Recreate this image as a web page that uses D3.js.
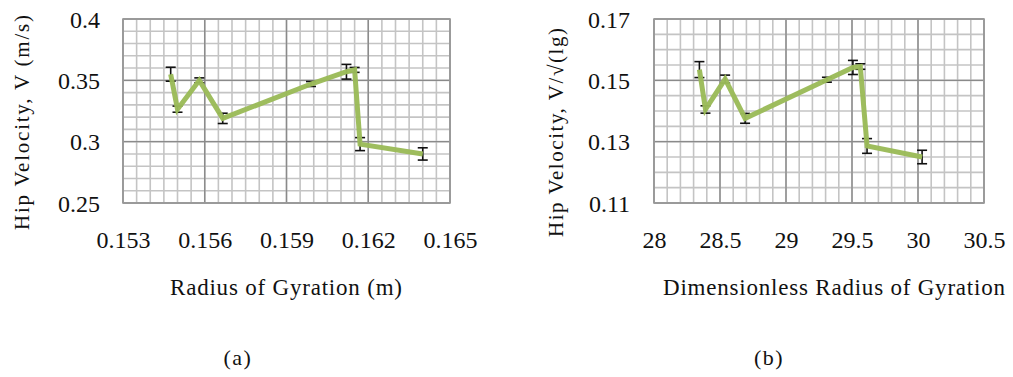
<!DOCTYPE html>
<html>
<head>
<meta charset="utf-8">
<script src="https://cdn.jsdelivr.net/npm/d3@7"></script>
<style>
  html, body { margin: 0; padding: 0; background: #fff; }
  svg { display: block; }
  text { font-family: "Liberation Serif", "Times New Roman", serif; fill: #111; }
</style>
</head>
<body>
<svg id="fig" width="1013" height="377"></svg>
<script>
// Panel (a): hip velocity against radius of gyration (m)
const radiusA   = [0.15475, 0.1550, 0.1558, 0.15666, 0.1599, 0.1612, 0.1615, 0.1617, 0.1640];
const velocityA = [0.355, 0.3265, 0.350, 0.319, 0.347, 0.357, 0.3585, 0.298, 0.290];
const errA      = [0.0057, 0.0025, 0.0020, 0.0042, 0.0020, 0.0060, 0.0020, 0.0053, 0.0050];
const xTicksA = [0.153, 0.156, 0.159, 0.162, 0.165];
const yTicksA = [0.25, 0.3, 0.35, 0.4];
const xLabelsA = ["0.153", "0.156", "0.159", "0.162", "0.165"];
const yLabelsA = ["0.25", "0.3", "0.35", "0.4"];

// Panel (b): normalised hip velocity against dimensionless radius of gyration
const radiusB   = [28.344, 28.39, 28.539, 28.69, 29.31, 29.507, 29.563, 29.614, 30.031];
const velocityB = [0.1535, 0.1405, 0.1504, 0.1376, 0.1502, 0.1542, 0.1545, 0.1286, 0.1250];
const errB      = [0.0026, 0.0012, 0.0013, 0.0016, 0.0008, 0.0023, 0.0009, 0.0024, 0.0022];
const xTicksB = [28, 28.5, 29, 29.5, 30, 30.5];
const yTicksB = [0.11, 0.13, 0.15, 0.17];
const xLabelsB = ["28", "28.5", "29", "29.5", "30", "30.5"];
const yLabelsB = ["0.11", "0.13", "0.15", "0.17"];

const svg = d3.select("#fig");

function panel(cfg) {
  const g = svg.append("g");
  const x = d3.scaleLinear().domain(cfg.xDomain).range([cfg.left, cfg.right]);
  const y = d3.scaleLinear().domain(cfg.yDomain).range([cfg.bottom, cfg.top]);

  // minor grid
  const xMinor = d3.range(cfg.xMinorCount + 1).map(i => cfg.xDomain[0] + i * (cfg.xDomain[1] - cfg.xDomain[0]) / cfg.xMinorCount);
  const yMinor = d3.range(cfg.yMinorCount + 1).map(i => cfg.yDomain[0] + i * (cfg.yDomain[1] - cfg.yDomain[0]) / cfg.yMinorCount);
  g.append("g").selectAll("line").data(xMinor).join("line")
    .attr("x1", d => x(d)).attr("x2", d => x(d))
    .attr("y1", cfg.top).attr("y2", cfg.bottom)
    .attr("stroke", "#c4c4c4").attr("stroke-width", 1.6);
  g.append("g").selectAll("line").data(yMinor).join("line")
    .attr("y1", d => y(d)).attr("y2", d => y(d))
    .attr("x1", cfg.left).attr("x2", cfg.right)
    .attr("stroke", "#c4c4c4").attr("stroke-width", 1.6);

  // major grid
  g.append("g").selectAll("line").data(cfg.xTicks).join("line")
    .attr("x1", d => x(d)).attr("x2", d => x(d))
    .attr("y1", cfg.top).attr("y2", cfg.bottom)
    .attr("stroke", "#8a8a8a").attr("stroke-width", 1.4);
  g.append("g").selectAll("line").data(cfg.yTicks).join("line")
    .attr("y1", d => y(d)).attr("y2", d => y(d))
    .attr("x1", cfg.left).attr("x2", cfg.right)
    .attr("stroke", "#8a8a8a").attr("stroke-width", 1.4);

  // frame
  g.append("rect")
    .attr("x", cfg.left).attr("y", cfg.top)
    .attr("width", cfg.right - cfg.left).attr("height", cfg.bottom - cfg.top)
    .attr("fill", "none").attr("stroke", "#9a9a9a").attr("stroke-width", 1.6);

  // axes (labels only)
  const xAxis = d3.axisBottom(x).tickValues(cfg.xTicks)
    .tickFormat((d, i) => cfg.xLabels[i]).tickSize(0).tickPadding(0);
  const ga = g.append("g").attr("transform", `translate(0,${cfg.bottom})`).call(xAxis);
  ga.select(".domain").remove();
  ga.selectAll("text").attr("dy", null).attr("y", cfg.xLabelY - cfg.bottom)
    .style("font-family", "Liberation Serif").style("font-size", "24px").attr("fill", "#111");

  const yAxis = d3.axisLeft(y).tickValues(cfg.yTicks)
    .tickFormat((d, i) => cfg.yLabels[i]).tickSize(0).tickPadding(0);
  const gy = g.append("g").attr("transform", `translate(${cfg.yLabelX},0)`).call(yAxis);
  gy.select(".domain").remove();
  gy.selectAll("text").attr("x", 0).attr("dy", "0.34em")
    .style("font-family", "Liberation Serif").style("font-size", "24px").attr("fill", "#111");

  // error bars
  const cap = 5;
  const eb = g.append("g").attr("stroke", "#111").attr("stroke-width", 1.6);
  cfg.xs.forEach((xv, i) => {
    const cx = x(xv), y0 = y(cfg.ys[i] - cfg.errs[i]), y1 = y(cfg.ys[i] + cfg.errs[i]);
    eb.append("line").attr("x1", cx).attr("x2", cx).attr("y1", y0).attr("y2", y1);
    eb.append("line").attr("x1", cx - cap).attr("x2", cx + cap).attr("y1", y0).attr("y2", y0);
    eb.append("line").attr("x1", cx - cap).attr("x2", cx + cap).attr("y1", y1).attr("y2", y1);
  });

  // series line
  const line = d3.line().x((d, i) => x(cfg.xs[i])).y(d => y(d));
  g.append("path").datum(cfg.ys)
    .attr("d", line)
    .attr("fill", "none")
    .attr("stroke", "#9bbb59").attr("stroke-width", 5)
    .attr("stroke-linejoin", "miter").attr("stroke-linecap", "butt")
    .attr("opacity", 0.97);

  // axis titles
  g.append("text")
    .attr("x", cfg.xTitleX).attr("y", cfg.xTitleY)
    .attr("textLength", cfg.xTitleLen).attr("lengthAdjust", "spacing")
    .style("font-size", "23px")
    .text(cfg.xTitle);
  g.append("text")
    .attr("transform", `translate(${cfg.yTitleX},${cfg.yTitleY}) rotate(-90)`)
    .attr("textLength", cfg.yTitleLen).attr("lengthAdjust", "spacing")
    .style("font-size", "21px")
    .text(cfg.yTitle);

  // caption
  g.append("text")
    .attr("x", cfg.capX).attr("y", 365).attr("text-anchor", "middle")
    .style("font-size", "22px").style("letter-spacing", "1.5px")
    .text(cfg.caption);
}

panel({
  xDomain: [0.153, 0.165], yDomain: [0.25, 0.4],
  left: 123, right: 450, top: 19, bottom: 203,
  xMinorCount: 24, yMinorCount: 15,
  xTicks: xTicksA, yTicks: yTicksA, xLabels: xLabelsA, yLabels: yLabelsA,
  xLabelY: 248, yLabelX: 100,
  xs: radiusA, ys: velocityA, errs: errA,
  xTitle: "Radius of Gyration (m)", xTitleX: 170, xTitleY: 295, xTitleLen: 232,
  yTitle: "Hip Velocity,  V  (m/s)", yTitleX: 29, yTitleY: 230, yTitleLen: 215,
  caption: "(a)", capX: 238
});

panel({
  xDomain: [28, 30.5], yDomain: [0.11, 0.17],
  left: 654, right: 984, top: 19, bottom: 203,
  xMinorCount: 25, yMinorCount: 12,
  xTicks: xTicksB, yTicks: yTicksB, xLabels: xLabelsB, yLabels: yLabelsB,
  xLabelY: 248, yLabelX: 630,
  xs: radiusB, ys: velocityB, errs: errB,
  xTitle: "Dimensionless Radius of Gyration", xTitleX: 663, xTitleY: 295, xTitleLen: 342,
  yTitle: "Hip Velocity,  V/√(lg)", yTitleX: 563, yTitleY: 237, yTitleLen: 209,
  caption: "(b)", capX: 769
});
</script>
</body>
</html>
